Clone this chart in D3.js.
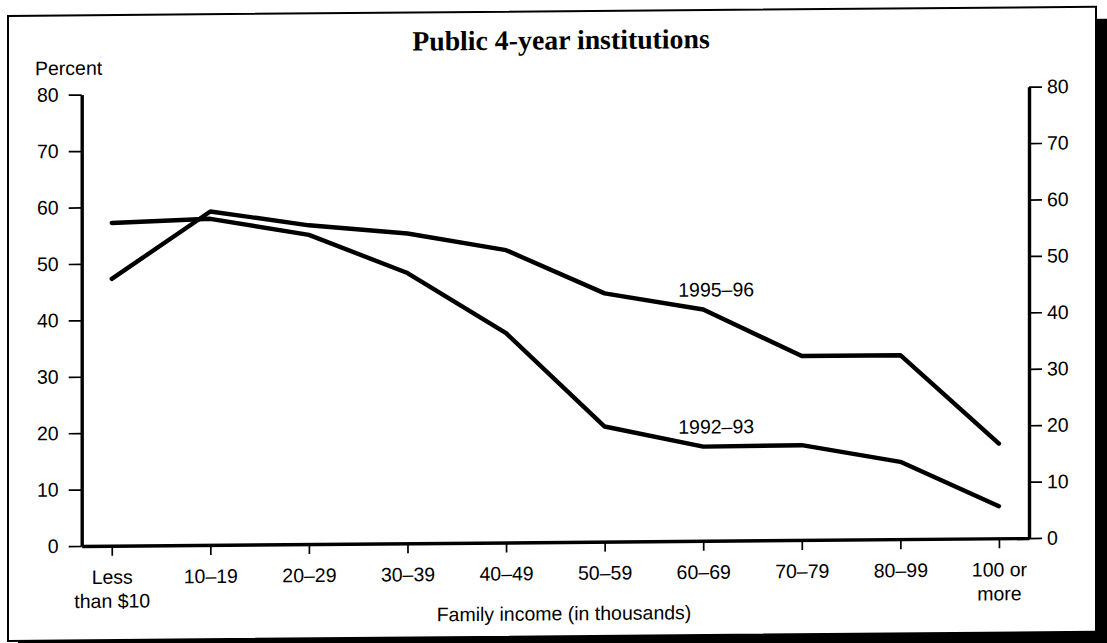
<!DOCTYPE html>
<html>
<head>
<meta charset="utf-8">
<script src="https://cdn.jsdelivr.net/npm/d3@7"></script>
<style>
  html, body { margin: 0; padding: 0; background: #fff; }
  svg { display: block; }
  text { fill: #000; }
</style>
</head>
<body>
<svg id="chart" width="1107" height="643"></svg>
<script>
// Share of students, by family income, public 4-year institutions
const categories = ["Less than $10", "10–19", "20–29", "30–39", "40–49",
                    "50–59", "60–69", "70–79", "80–99", "100 or more"];
const tickLabels = [["Less", "than $10"], ["10–19"], ["20–29"], ["30–39"], ["40–49"],
                    ["50–59"], ["60–69"], ["70–79"], ["80–99"], ["100 or", "more"]];
const values9293 = [57.2, 57.8, 54.8, 47.9, 37.1, 20.4, 16.7, 16.8, 13.7, 5.7];
const values9596 = [47.3, 59.1, 56.5, 54.9, 51.8, 44.0, 41.0, 32.6, 32.6, 16.8];
const yTicks = [0, 10, 20, 30, 40, 50, 60, 70, 80];
const seriesNames = ["1992–93", "1995–96"];

const sans = "'Liberation Sans', Arial, Helvetica, sans-serif";
const serif = "'Liberation Serif', 'Times New Roman', serif";
const fs = 19.5;

const svg = d3.select("#chart");

// whole page sits slightly tilted
const page = svg.append("g").attr("transform", "skewY(-0.48)");

// frame with drop shadow
page.append("rect")
  .attr("x", 18).attr("y", 28).attr("width", 1090).attr("height", 630)
  .attr("fill", "#000");
page.append("rect")
  .attr("x", 8).attr("y", 16).attr("width", 1088).attr("height", 625)
  .attr("fill", "#fff").attr("stroke", "#000").attr("stroke-width", 2);

const left = 81.7, right = 1029;
const y = d3.scaleLinear().domain([0, 80]).range([546.7, 95.3]);
const x = d3.scalePoint().domain(categories).range([left, right]).padding(0.305);

// title
page.append("text")
  .attr("x", 561).attr("y", 54)
  .attr("text-anchor", "middle")
  .attr("font-family", serif).attr("font-weight", "bold").attr("font-size", 27.8)
  .text("Public 4-year institutions");

page.append("text")
  .attr("x", 35).attr("y", 75.5)
  .attr("font-family", sans).attr("font-size", fs)
  .text("Percent");

// left axis
const gl = page.append("g").attr("transform", `translate(${left},0)`)
  .call(d3.axisLeft(y).tickValues(yTicks).tickSize(13).tickSizeOuter(0).tickPadding(10));
// right axis
const gr = page.append("g").attr("transform", `translate(${right},0)`)
  .call(d3.axisRight(y).tickValues(yTicks).tickSize(13).tickSizeOuter(0).tickPadding(5));
// bottom axis
const gb = page.append("g").attr("transform", `translate(0,${y(0)})`)
  .call(d3.axisBottom(x).tickSize(10).tickSizeOuter(0).tickFormat(""));

[gl, gr, gb].forEach(g => {
  g.select(".domain").attr("stroke", "#000").attr("stroke-width", 3.4);
  g.selectAll(".tick line").attr("stroke", "#000").attr("stroke-width", 1.7);
  g.selectAll(".tick text").attr("font-family", sans).attr("font-size", fs).attr("fill", "#000");
});

// multi-line category labels
gb.selectAll(".tick").each(function (d, i) {
  const t = d3.select(this).append("text")
    .attr("text-anchor", "middle")
    .attr("font-family", sans).attr("font-size", fs).attr("fill", "#000");
  tickLabels[i].forEach((line, k) => {
    t.append("tspan").attr("x", 0).attr("y", 38 + k * 24).text(line);
  });
});

page.append("text")
  .attr("x", 564).attr("y", 625)
  .attr("text-anchor", "middle")
  .attr("font-family", sans).attr("font-size", fs)
  .text("Family income (in thousands)");

// series lines
const line = d3.line().x((d, i) => x(categories[i])).y(d => y(d));
[values9293, values9596].forEach(vals => {
  page.append("path")
    .datum(vals)
    .attr("d", line)
    .attr("fill", "none")
    .attr("stroke", "#000")
    .attr("stroke-width", 4.4)
    .attr("stroke-linejoin", "round")
    .attr("stroke-linecap", "round");
});

// series labels near the 60–69 point
const labelIdx = 6;
[[values9293, seriesNames[0]], [values9596, seriesNames[1]]].forEach(([vals, name]) => {
  page.append("text")
    .attr("x", x(categories[labelIdx]) + 13)
    .attr("y", y(vals[labelIdx]) - 13)
    .attr("text-anchor", "middle")
    .attr("font-family", sans).attr("font-size", fs)
    .text(name);
});
</script>
</body>
</html>
